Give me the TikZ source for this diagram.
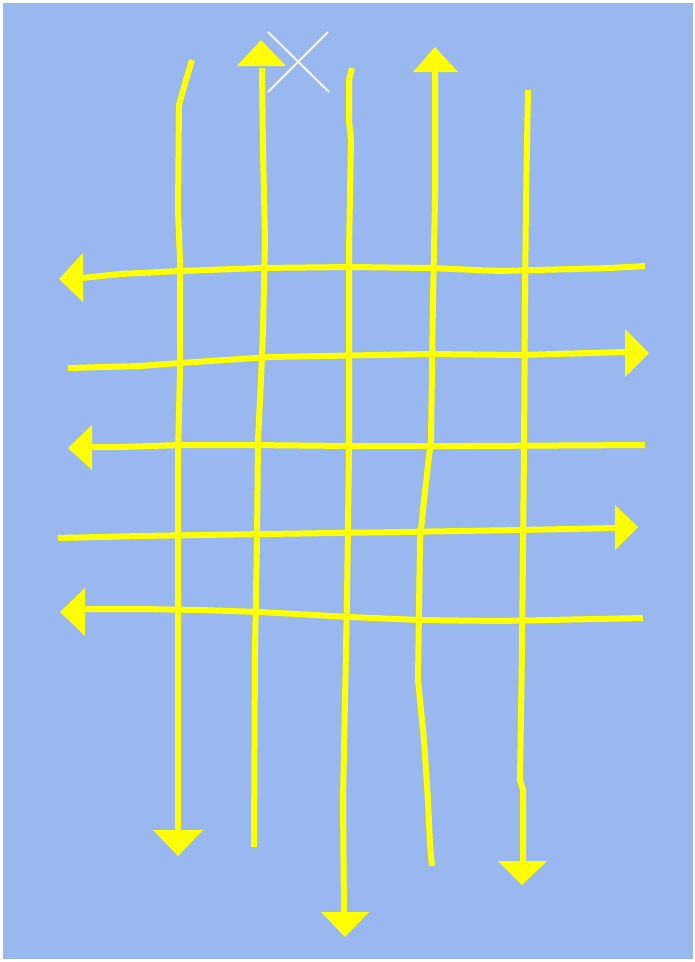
\documentclass[tikz,border=0pt]{standalone}
\usepackage{tikz}
\definecolor{bgblue}{RGB}{153,184,240}
\definecolor{yel}{RGB}{255,255,0}
\tikzset{
  yline/.style={draw=yel,line width=6pt,line join=round},
  yhead/.style={fill=yel},
  xmark/.style={draw=white!92!bgblue,line width=2pt}
}
\begin{document}
\begin{tikzpicture}[x=1pt,y=-1pt]
\useasboundingbox (0,0) rectangle (695,962);
\fill[white] (0,0) rectangle (695,962);
\fill[bgblue] (3,3) rectangle (693,959);
% vertical lines
\draw[yline] (192,60) -- (186,80) -- (179,105) -- (178,210) -- (180,260) -- (180,370) -- (178,455) -- (178,600) -- (178,832);
\fill[yhead] (153,830) -- (203,830) -- (178,856) -- cycle;
\draw[yline] (262,68) -- (263,150) -- (265,240) -- (263,330) -- (261,380) -- (258,440) -- (257,540) -- (255,650) -- (254,847);
\fill[yhead] (237,66) -- (286,66) -- (261,40) -- cycle;
\draw[yline] (352,68) -- (349,80) -- (349,120) -- (351,140) -- (349,250) -- (349,450) -- (347,600) -- (345,700) -- (343,800) -- (344,914);
\fill[yhead] (321,912) -- (369,912) -- (345,937) -- cycle;
\draw[yline] (435,70) -- (435,200) -- (433,300) -- (431,440) -- (424,500) -- (420,540) -- (418,680) -- (424,740) -- (428,800) -- (430,845) -- (432,866);
\fill[yhead] (413,72) -- (458,72) -- (435,47) -- cycle;
\draw[yline] (528,90) -- (526,200) -- (525,300) -- (524,450) -- (522,650) -- (520,780) -- (523,790) -- (523,862);
\fill[yhead] (498,861) -- (547,861) -- (522,885) -- cycle;
% horizontal lines
\draw[yline] (645,266) -- (610,268) -- (500,271) -- (430,268) -- (350,267) -- (260,268) -- (180,271) -- (120,274) -- (82,278);
\fill[yhead] (83,253) -- (83,302) -- (59,279) -- cycle;
\draw[yline] (68,368) -- (140,366) -- (180,363) -- (270,357) -- (430,354) -- (520,355) -- (626,352);
\fill[yhead] (625,329) -- (625,377) -- (649,353) -- cycle;
\draw[yline] (645,445) -- (470,446) -- (350,446) -- (250,445) -- (180,445) -- (120,447) -- (90,447);
\fill[yhead] (92,425) -- (92,470) -- (68,448) -- cycle;
\draw[yline] (58,538) -- (140,536) -- (200,535) -- (400,532) -- (520,530) -- (616,528);
\fill[yhead] (615,505) -- (615,550) -- (638,527) -- cycle;
\draw[yline] (643,618) -- (500,621) -- (420,620) -- (350,617) -- (260,612) -- (200,610) -- (140,609) -- (84,609);
\fill[yhead] (85,588) -- (85,636) -- (60,612) -- cycle;
% white cross
\draw[xmark] (268,32) -- (329,92);
\draw[xmark] (328,32) -- (268,92);
\end{tikzpicture}
\end{document}
